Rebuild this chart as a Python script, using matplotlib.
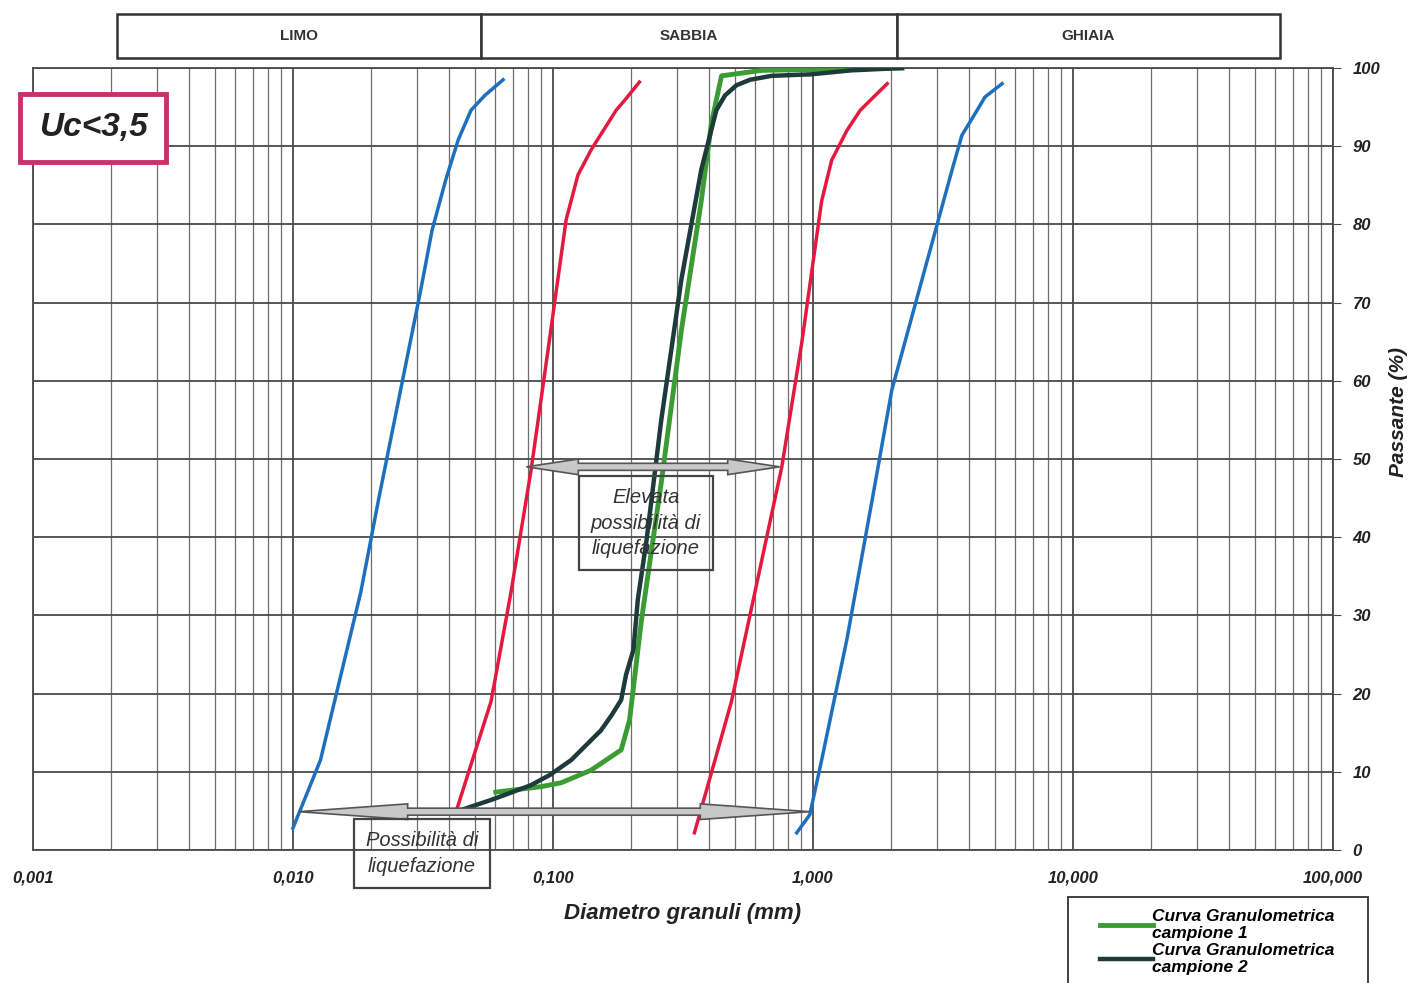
import numpy as np
import matplotlib
matplotlib.use('Agg')
import matplotlib.pyplot as plt
from matplotlib.transforms import blended_transform_factory
from matplotlib.patches import Rectangle, Polygon
from matplotlib.ticker import LogLocator, FixedLocator, NullFormatter

plt.rcParams['font.family'] = ['Liberation Sans', 'DejaVu Sans']

# envelope curves (Uc < 3,5) - diameter (mm), passing (%)
blue_l_d = [0.010, 0.01276, 0.01824, 0.0214, 0.031, 0.0343, 0.0387, 0.0432, 0.0484, 0.0547, 0.0643]
blue_l_p = [2.8, 11.5, 33, 45, 71.6, 79.3, 85.7, 90.8, 94.6, 96.5, 98.5]
red_l_d = [0.0424, 0.0578, 0.069, 0.0824, 0.0958, 0.1124, 0.1247, 0.140, 0.175, 0.189, 0.215]
red_l_p = [4.9, 19, 33, 48.6, 64, 80.6, 86.3, 89.5, 94.6, 95.9, 98.2]
red_r_d = [0.35, 0.39, 0.486, 0.635, 0.759, 0.907, 1.08, 1.18, 1.35, 1.52, 1.93]
red_r_p = [2.2, 7.7, 19, 37, 49, 65, 83, 88.2, 92, 94.6, 98]
blue_r_d = [0.866, 0.972, 1.08, 1.35, 1.69, 2.01, 2.63, 3.43, 3.74, 4.28, 4.59, 5.34]
blue_r_p = [2.2, 4.5, 11.5, 26.9, 44.8, 58.8, 73, 87, 91.4, 94.6, 96.3, 98]

# sample curves
c1_d = [0.0603, 0.090, 0.1076, 0.140, 0.183, 0.197, 0.219, 0.261, 0.312, 0.372, 0.407, 0.445, 0.635, 2.2]
c1_p = [7.4, 8.1, 8.6, 10.2, 12.8, 16.6, 29.4, 47, 66.5, 83, 93, 99, 99.7, 100]
c2_d = [0.0424, 0.0578, 0.0685, 0.0824, 0.0973, 0.1175, 0.153, 0.1686, 0.183, 0.191, 0.204, 0.212,
        0.229, 0.261, 0.312, 0.372, 0.425, 0.459, 0.508, 0.573, 0.693, 0.99, 1.4, 2.2]
c2_p = [4.9, 6.4, 7.3, 8.3, 9.6, 11.5, 15.3, 17.3, 19.2, 22.4, 25.6, 32,
        39.6, 55, 73, 87, 94.6, 96.5, 97.8, 98.5, 99, 99.2, 99.7, 100]

# soil class header
classes = ['LIMO', 'SABBIA', 'GHIAIA']
class_edges = [0.0021, 0.053, 2.1, 62.5]

x_ticks = [0.001, 0.01, 0.1, 1, 10, 100]
x_tick_labels = ['0,001', '0,010', '0,100', '1,000', '10,000', '100,000']
y_ticks = list(range(0, 101, 10))

BLUE = '#1f6fbf'
RED = '#e3193f'
GREEN = '#3c9c34'
DARK = '#1e3b3b'
GRID = '#4a4a4a'
TXT = '#222222'


def double_arrow(ax, x0, x1, y, head_dec, head_hw, shaft_hw):
    """Grey double arrow drawn in log-x space"""
    a, b = np.log10(x0), np.log10(x1)
    xs = [a, a + head_dec, a + head_dec, b - head_dec, b - head_dec, b,
          b - head_dec, b - head_dec, a + head_dec, a + head_dec]
    ys = [y, y + head_hw, y + shaft_hw, y + shaft_hw, y + head_hw, y,
          y - head_hw, y - shaft_hw, y - shaft_hw, y - head_hw]
    pts = np.column_stack([10 ** np.array(xs), ys])
    ax.add_patch(Polygon(pts, closed=True, facecolor='#c8c8c8',
                         edgecolor='#555555', linewidth=1.2, zorder=5))


fig = plt.figure(figsize=(14.2, 9.83), dpi=100)
ax = fig.add_axes([0.0232, 0.1353, 0.9155, 0.7955])
ax.set_xscale('log')
ax.set_xlim(0.001, 100)
ax.set_ylim(0, 100)

# grid
ax.xaxis.set_major_locator(FixedLocator(x_ticks))
ax.xaxis.set_minor_locator(LogLocator(base=10, subs=np.arange(2, 10)))
ax.xaxis.set_minor_formatter(NullFormatter())
ax.set_yticks(y_ticks)
ax.grid(True, which='major', color=GRID, linewidth=1.3)
ax.grid(True, which='minor', axis='x', color=GRID, linewidth=0.9, alpha=0.8)
for s in ax.spines.values():
    s.set_color(GRID)
    s.set_linewidth(1.3)

ax.set_xticklabels(x_tick_labels, fontsize=12, fontweight='bold', style='italic', color=TXT)
ax.tick_params(axis='x', which='both', length=0, pad=15)
ax.yaxis.tick_right()
ax.set_yticklabels([str(v) for v in y_ticks], fontsize=12, fontweight='bold',
                   style='italic', color=TXT)
ax.tick_params(axis='y', length=6, color=GRID, pad=8)
ax.set_xlabel('Diametro granuli (mm)', fontsize=16, fontweight='bold', style='italic',
              color=TXT, labelpad=12)
fig.text(1398 / 1420, 1 - 412 / 983, 'Passante (%)', rotation=90, ha='center', va='center',
         fontsize=15, fontweight='bold', style='italic', color=TXT)

# curves
lw = 2.5
ax.plot(blue_l_d, blue_l_p, color=BLUE, lw=lw, zorder=4)
ax.plot(blue_r_d, blue_r_p, color=BLUE, lw=lw, zorder=4)
ax.plot(red_l_d, red_l_p, color=RED, lw=lw, zorder=4)
ax.plot(red_r_d, red_r_p, color=RED, lw=lw, zorder=4)
ax.plot(c1_d, c1_p, color=GREEN, lw=3.5, zorder=4, label='Curva Granulometrica\ncampione 1')
ax.plot(c2_d, c2_p, color=DARK, lw=3.2, zorder=4, label='Curva Granulometrica\ncampione 2')

# arrows and liquefaction boxes
double_arrow(ax, 0.079, 0.745, 49, 0.2, 1.0, 0.45)
double_arrow(ax, 0.0105, 0.97, 4.9, 0.42, 1.0, 0.45)
box = dict(boxstyle='square,pad=0.6', facecolor='none', edgecolor='#444', linewidth=1.6)
ax.text(0.228, 41.8, 'Elevata\npossibilità di\nliquefazione', ha='center', va='center',
        fontsize=14.5, style='italic', color='#333', linespacing=1.45, bbox=box, zorder=6)
ax.text(0.0313, -0.4, 'Possibilità di\nliquefazione', ha='center', va='center',
        fontsize=14.5, style='italic', color='#333', linespacing=1.45, bbox=box,
        zorder=6, clip_on=False)

# class header boxes
tr = blended_transform_factory(ax.transData, ax.transAxes)
for name, x0, x1 in zip(classes, class_edges[:-1], class_edges[1:]):
    ax.add_patch(Rectangle((x0, 1.013), x1 - x0, 0.056, transform=tr, clip_on=False,
                           facecolor='white', edgecolor='#333', linewidth=1.8))
    ax.text(np.sqrt(x0 * x1), 1.041, name, transform=tr, ha='center', va='center',
            fontsize=11, fontweight='bold', color='#333')

# Uc label
fig.text(0.0655, 0.870, 'Uc<3,5', ha='center', va='center', fontsize=24,
         fontweight='bold', style='italic', color=TXT,
         bbox=dict(boxstyle='square,pad=0.55', facecolor='white', edgecolor='#c4336b',
                   linewidth=3.5))

# legend with its own frame
fig.patches.append(Rectangle((1068 / 1420, -0.02), 300 / 1420, 0.02 + 86 / 983,
                             transform=fig.transFigure, facecolor='white',
                             edgecolor='#333', linewidth=1.3))
leg = fig.legend(loc='upper left', bbox_to_anchor=(1090 / 1420, 1 - 899 / 983),
                 prop=dict(weight='bold', style='italic', size=12.5), frameon=False,
                 handlelength=3.0, handletextpad=0.0, labelspacing=0.1, borderpad=0.1)
for t in leg.get_texts():
    t.set_linespacing(1.15)

fig.savefig('out.png', dpi=100)
